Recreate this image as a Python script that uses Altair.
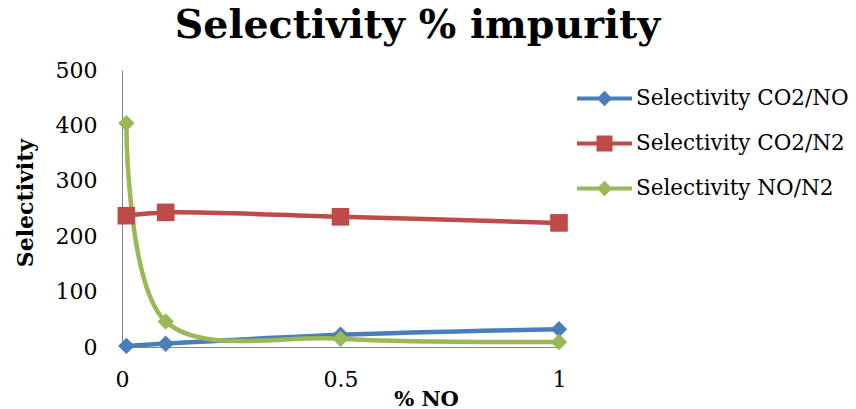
import altair as alt
import pandas as pd

# ---- data ----
x_vals = [0.01, 0.1, 0.5, 1.0]
co2_no = [2, 6, 22, 32]
co2_n2 = [237, 243, 235, 224]
no_n2 = [404, 46, 15, 9]
series = ["Selectivity CO2/NO", "Selectivity CO2/N2", "Selectivity NO/N2"]
colors = ["#4A7EBB", "#BE4B48", "#98B954"]
x_ticks = [0, 0.5, 1]
y_ticks = [0, 100, 200, 300, 400, 500]

rows = []
for name, vals in zip(series, [co2_no, co2_n2, no_n2]):
    for i, (x, v) in enumerate(zip(x_vals, vals)):
        rows.append({"pct": x, "sel": v, "series": name, "order": i})
df = pd.DataFrame(rows)

FONT = "DejaVu Serif"
W, H = 437, 277

# legend symbol paths: line segment + marker
diamond_leg = "M-1,-0.075H1V0.075H-1Z M0,-0.28L0.28,0L0,0.28L-0.28,0Z"
square_leg = "M-1,-0.075H1V0.075H-1Z M-0.29,-0.29H0.29V0.29H-0.29Z"
legend_shapes = [diamond_leg, square_leg, diamond_leg]

color_scale = alt.Scale(domain=series, range=colors)

x_enc = alt.X(
    "pct:Q",
    scale=alt.Scale(domain=[0, 1], nice=False),
    axis=alt.Axis(
        values=x_ticks, format="~g", grid=False, ticks=False, labelFlush=False,
        domainColor="#868686", domainWidth=1,
        labelFont=FONT, labelFontSize=22, labelColor="#000000",
        labelPadding=22,
        title="% NO", titleFont=FONT, titleFontSize=21, titleFontWeight="bold",
        titleColor="#000000", titleX=304, titleY=58, titleBaseline="alphabetic",
        titleAnchor="start", titleAlign="center",
    ),
)
y_enc = alt.Y(
    "sel:Q",
    scale=alt.Scale(domain=[0, 500], nice=False),
    axis=alt.Axis(
        values=y_ticks, grid=False, ticks=False,
        domainColor="#868686", domainWidth=1,
        labelFont=FONT, labelFontSize=22, labelColor="#000000",
        labelPadding=25,
        title="Selectivity", titleFont=FONT, titleFontSize=22, titleFontWeight="bold",
        titleColor="#000000", titleX=-97, titleY=H / 2 - 6, titleBaseline="middle",
        titleAlign="center", titleAngle=270,
    ),
)

leg = alt.Legend(
    title=None, orient="none", legendX=455, legendY=1,
    symbolSize=3025, symbolOpacity=1, symbolStrokeWidth=0,
    labelFont=FONT, labelFontSize=21.5, labelColor="#000000", labelLimit=400,
    labelOffset=4, rowPadding=7, padding=0,
)

lines = alt.Chart(df).mark_line(interpolate="catmull-rom", strokeWidth=4.5).encode(
    x=x_enc, y=y_enc,
    color=alt.Color("series:N", scale=color_scale, legend=leg),
    shape=alt.Shape("series:N", scale=alt.Scale(domain=series, range=legend_shapes), legend=leg),
    order="order:Q",
)

diamonds = alt.Chart(df).transform_filter(
    alt.datum.series != "Selectivity CO2/N2"
).mark_point(shape="diamond", filled=True, opacity=1, size=270).encode(
    x="pct:Q", y="sel:Q", color=alt.Color("series:N", scale=color_scale, legend=None),
)

squares = alt.Chart(df).transform_filter(
    alt.datum.series == "Selectivity CO2/N2"
).mark_point(shape="square", filled=True, opacity=1, size=310).encode(
    x="pct:Q", y="sel:Q", color=alt.Color("series:N", scale=color_scale, legend=None),
)

chart = (
    alt.layer(lines, diamonds, squares)
    .properties(
        width=W,
        height=H,
        autosize=alt.AutoSizeParams(type="none"),
        padding={"left": 122, "top": 70, "right": 856 - 122 - W, "bottom": 409 - 70 - H},
        title=alt.TitleParams(
            "Selectivity % impurity", font=FONT, fontSize=39.5, fontWeight="bold",
            color="#000000", anchor="middle", frame="group", baseline="alphabetic",
            offset=22, dx=77, dy=40,
        ),
        background="#ffffff",
    )
    .configure_view(stroke=None)
)

chart.save("out.html", embed_options={"renderer": "svg", "actions": False})
